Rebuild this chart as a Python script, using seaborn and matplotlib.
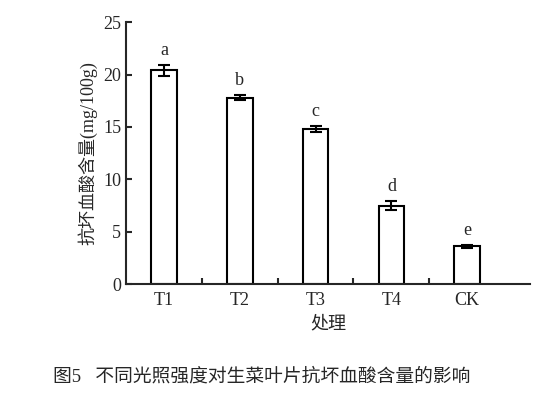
import matplotlib
matplotlib.use("Agg")
import matplotlib.pyplot as plt
import seaborn as sns
import pandas as pd

categories = ["T1", "T2", "T3", "T4", "CK"]
values = [20.4, 17.8, 14.8, 7.5, 3.6]
errors = [0.5, 0.25, 0.25, 0.4, 0.15]
letters = ["a", "b", "c", "d", "e"]

sns.set_style("ticks")
plt.rcParams['font.family'] = ['Liberation Serif', 'Noto Sans CJK SC']
fig = plt.figure(figsize=(5.58, 4.03), dpi=100)
ax = fig.add_axes([0.226, 0.295, 0.724, 0.65])
df = pd.DataFrame({"cat": categories, "val": values})
sns.barplot(data=df, x="cat", y="val", ax=ax, color="white", edgecolor="black",
            linewidth=1.5, width=0.34, errorbar=None)
ax.errorbar(range(len(categories)), values, yerr=errors, fmt="none", ecolor="black",
            elinewidth=1.5, capsize=4, capthick=1.5)
for i, (v, e, l) in enumerate(zip(values, errors, letters)):
    ax.text(i, v + e + 0.6, l, ha="center", va="bottom", fontsize=13)
ax.set_ylim(0, 25)
ax.set_xlim(-0.5, 4.83)
ax.set_yticks([0, 5, 10, 15, 20, 25])
ax.set_xticks([0, 1, 2, 3, 4])
ax.set_xticks([0.5, 1.5, 2.5, 3.5], minor=True)
ax.tick_params(axis="x", which="major", length=0, labelsize=13, pad=6)
ax.tick_params(axis="x", which="minor", direction="in", length=4, width=1.5)
ax.tick_params(axis="y", direction="in", length=4, width=1.5, labelsize=13)
for s in ["left", "bottom"]:
    ax.spines[s].set_linewidth(1.5)
sns.despine(ax=ax)
ax.set_xlabel("处理", fontsize=13)
ax.set_ylabel("抗坏血酸含量(mg/100g)", fontsize=13)
fig.text(0.095, 0.065, "图5   不同光照强度对生菜叶片抗坏血酸含量的影响", fontsize=13.5, ha="left", va="center")
fig.savefig("out.png", dpi=100)
